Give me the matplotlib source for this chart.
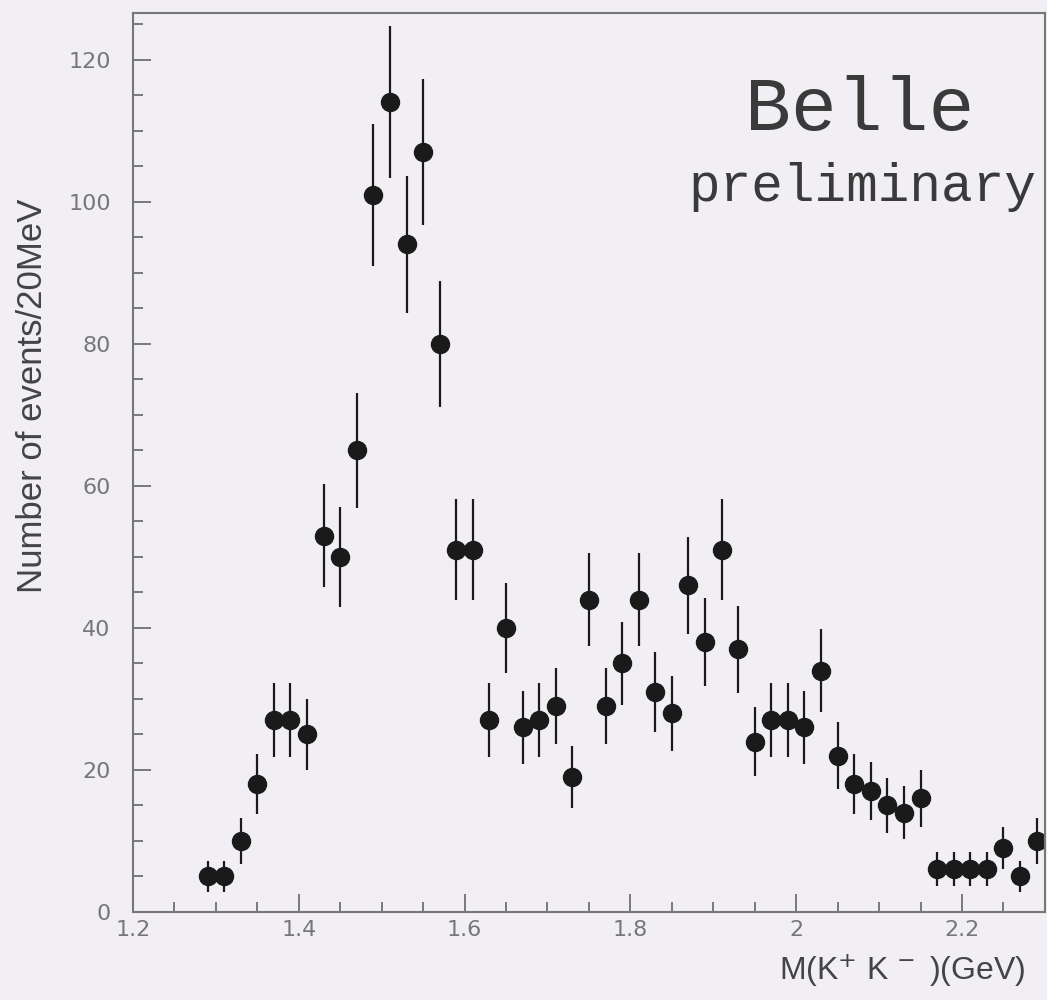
import matplotlib
matplotlib.use("Agg")
import matplotlib.pyplot as plt
from matplotlib.ticker import MultipleLocator

# K+K- invariant mass, 20 MeV bins
mass = [1.29, 1.31, 1.33, 1.35, 1.37, 1.39, 1.41, 1.43, 1.45, 1.47,
        1.49, 1.51, 1.53, 1.55, 1.57, 1.59, 1.61, 1.63, 1.65, 1.67,
        1.69, 1.71, 1.73, 1.75, 1.77, 1.79, 1.81, 1.83, 1.85, 1.87,
        1.89, 1.91, 1.93, 1.95, 1.97, 1.99, 2.01, 2.03, 2.05, 2.07,
        2.09, 2.11, 2.13, 2.15, 2.17, 2.19, 2.21, 2.23, 2.25, 2.27, 2.29]
events = [5, 5, 10, 18, 27, 27, 25, 53, 50, 65,
          101, 114, 94, 107, 80, 51, 51, 27, 40, 26,
          27, 29, 19, 44, 29, 35, 44, 31, 28, 46,
          38, 51, 37, 24, 27, 27, 26, 34, 22, 18,
          17, 15, 14, 16, 6, 6, 6, 6, 9, 5, 10]
errors = [2.2, 2.2, 3.2, 4.2, 5.2, 5.2, 5.0, 7.3, 7.1, 8.1,
          10.0, 10.7, 9.7, 10.3, 8.9, 7.1, 7.1, 5.2, 6.3, 5.1,
          5.2, 5.4, 4.4, 6.6, 5.4, 5.9, 6.6, 5.6, 5.3, 6.8,
          6.2, 7.1, 6.1, 4.9, 5.2, 5.2, 5.1, 5.8, 4.7, 4.2,
          4.1, 3.9, 3.7, 4.0, 2.4, 2.4, 2.4, 2.4, 3.0, 2.2, 3.2]

bg = "#f1eff4"
fig = plt.figure(figsize=(10.47, 10.0), dpi=100, facecolor=bg)
ax = fig.add_axes([0.127, 0.088, 0.871, 0.899], facecolor=bg)

ax.errorbar(mass, events, yerr=errors, fmt="o", color="#1a1a1a",
            ms=13, elinewidth=1.6, capsize=0)

ax.set_xlim(1.2, 2.3)
ax.set_ylim(0, 126.6)
ax.xaxis.set_major_locator(MultipleLocator(0.2))
ax.xaxis.set_minor_locator(MultipleLocator(0.05))
ax.yaxis.set_major_locator(MultipleLocator(20))
ax.yaxis.set_minor_locator(MultipleLocator(5))
ax.xaxis.set_major_formatter(plt.FuncFormatter(lambda v, p: f"{v:g}"))

for s in ax.spines.values():
    s.set_color("#777777")
    s.set_linewidth(1.5)
ax.tick_params(which="both", direction="in", color="#666666", width=1.2,
               top=False, right=False, labelsize=16, labelcolor="#777777")
ax.tick_params(which="major", length=13)
ax.tick_params(which="minor", length=7)
ax.tick_params(axis="y", pad=16)
ax.tick_params(axis="x", pad=6)

fig.text(0.031, 0.604, "Number of events/20MeV", rotation=90, ha="center",
         va="center", fontsize=25, color="#444444", family="Liberation Sans")
fig.text(0.862, 0.030, r"M(K$^{+}$ K$^{\,-}$ )(GeV)", ha="center",
         va="center", fontsize=23, color="#444444", family="Liberation Sans")

ax.text(0.797, 0.892, "Belle", transform=ax.transAxes, ha="center",
        va="center", fontsize=55, color="#3a3a3a", family="Liberation Mono")
ax.text(0.800, 0.806, "preliminary", transform=ax.transAxes, ha="center",
        va="center", fontsize=38, color="#3a3a3a", family="Liberation Mono")

fig.savefig("out.png", dpi=100, facecolor=bg)
